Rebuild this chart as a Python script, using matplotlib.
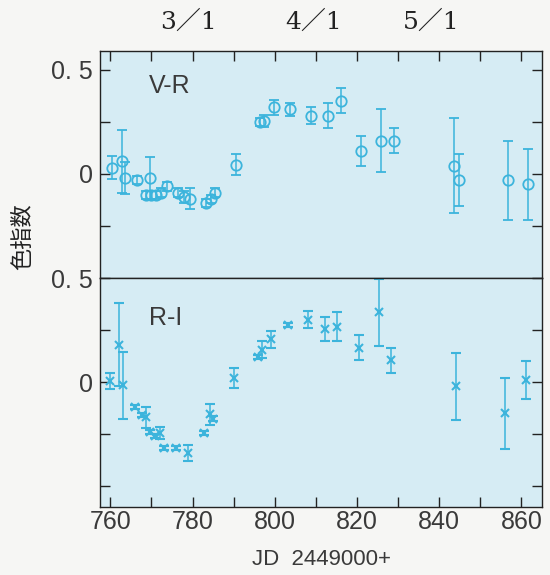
import matplotlib
matplotlib.use('Agg')
import matplotlib.pyplot as plt

plt.rcParams['font.family'] = ['Liberation Sans', 'DejaVu Sans', 'Noto Sans CJK JP']

# V-R colour index
vr_jd = [760.5, 762.8, 763.5, 766.5, 768.8, 769.6, 770.0, 771.2, 772.4, 773.7,
         776.5, 778.0, 779.3, 783.4, 784.5, 785.5, 790.6, 796.4, 797.5, 799.7,
         803.7, 808.8, 813.0, 816.1, 821.0, 825.9, 829.0, 843.7, 844.9, 856.7, 861.5]
vr = [0.03, 0.06, -0.02, -0.03, -0.10, -0.02, -0.10, -0.10, -0.09, -0.06,
      -0.09, -0.11, -0.12, -0.14, -0.12, -0.09, 0.045, 0.25, 0.255, 0.32,
      0.31, 0.28, 0.28, 0.35, 0.11, 0.16, 0.16, 0.04, -0.03, -0.03, -0.05]
vr_err = [0.055, 0.15, 0.075, 0.02, 0.02, 0.10, 0.02, 0.02, 0.02, 0.02,
          0.02, 0.03, 0.05, 0.02, 0.02, 0.02, 0.05, 0.02, 0.03, 0.035,
          0.03, 0.04, 0.06, 0.06, 0.07, 0.15, 0.06, 0.23, 0.125, 0.19, 0.17]

# R-I colour index
ri_jd = [760.0, 762.1, 763.1, 766.0, 767.8, 768.8, 769.6, 770.8, 772.0, 773.0,
         775.9, 778.9, 782.7, 784.2, 785.0, 790.0, 796.0, 797.0, 799.0, 803.2,
         808.0, 812.3, 815.2, 820.4, 825.3, 828.2, 844.0, 856.1, 861.2]
ri = [0.005, 0.18, -0.015, -0.12, -0.16, -0.17, -0.24, -0.26, -0.245, -0.315,
      -0.315, -0.34, -0.245, -0.155, -0.175, 0.02, 0.12, 0.155, 0.205, 0.275,
      0.30, 0.255, 0.265, 0.165, 0.335, 0.105, -0.02, -0.15, 0.01]
ri_err = [0.04, 0.2, 0.16, 0.01, 0.01, 0.05, 0.01, 0.01, 0.03, 0.01,
          0.01, 0.04, 0.01, 0.05, 0.01, 0.05, 0.01, 0.04, 0.04, 0.01,
          0.04, 0.06, 0.07, 0.06, 0.16, 0.06, 0.16, 0.17, 0.09]

month_jd = [779, 809.5, 838]
month_labels = ['3／1', '4／1', '5／1']

col = '#3cb4dc'
bg = '#d6ecf4'
txt = '#3a3a3a'

fig = plt.figure(figsize=(5.5, 5.75), dpi=100, facecolor='#f6f6f4')
ax1 = fig.add_axes([0.1818, 0.5165, 0.8037, 0.3948], facecolor=bg)
ax2 = fig.add_axes([0.1818, 0.1183, 0.8037, 0.3982], facecolor=bg, sharex=ax1)

ax1.errorbar(vr_jd, vr, yerr=vr_err, fmt='o', ms=7.5, mfc='none', mec=col, mew=1.3,
             ecolor=col, elinewidth=1.1, capsize=3.5, capthick=1.1)
ax2.errorbar(ri_jd, ri, yerr=ri_err, fmt='x', ms=6, mec=col, mew=1.5,
             ecolor=col, elinewidth=1.1, capsize=3.5, capthick=1.1)

ax1.set_xlim(757.5, 865)
ax1.set_ylim(-0.5, 0.59)
ax2.set_ylim(-0.6, 0.5)

for ax in (ax1, ax2):
    for s in ax.spines.values():
        s.set_color('#222222')
        s.set_linewidth(1.0)
    ax.tick_params(which='both', direction='in', left=True, right=True,
                   length=7, width=1.0, color='#222222', labelcolor=txt, labelsize=18, pad=5)

ax1.set_yticks([0.5, 0], ['0. 5', '0'])
ax1.set_yticks([0.25, -0.25], minor=True)
ax2.set_yticks([0.5, 0], ['0. 5', '0'])
ax2.set_yticks([0.25, -0.25, -0.5], minor=True)

ax2.set_xticks(range(760, 861, 20), [str(v) for v in range(760, 861, 20)])
ax2.set_xticks(range(770, 861, 20), minor=True)
ax1.tick_params(which='both', top=True, bottom=False, labelbottom=False)
ax2.tick_params(which='both', top=False, bottom=True)
ax2.tick_params(axis='x', pad=2)

ax1.text(769.5, 0.42, 'V-R', fontsize=18, color=txt, va='center', ha='left')
ax2.text(769.5, 0.31, 'R-I', fontsize=18, color=txt, va='center', ha='left')

for x, lab in zip(month_jd, month_labels):
    ax1.text(x, 1.128, lab, transform=ax1.get_xaxis_transform(), ha='center', va='center',
             fontsize=18, color='#222222', family=['DejaVu Serif', 'Noto Sans CJK JP'])

ax2.set_xlabel('JD  2449000+', fontsize=16, color=txt)
ax2.xaxis.set_label_coords(0.5, -0.185)
fig.text(0.042, 0.588, '色指数', rotation=90, fontsize=16, color='#222222',
         ha='center', va='center', family=['Noto Sans CJK JP'])

fig.savefig('out.png', dpi=100, facecolor=fig.get_facecolor())
